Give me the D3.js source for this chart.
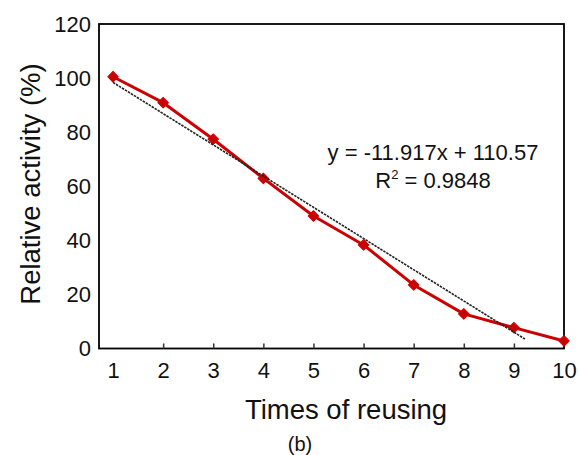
<!DOCTYPE html>
<html>
<head>
<meta charset="utf-8">
<script src="https://cdn.jsdelivr.net/npm/d3@7"></script>
<style>
  html, body { margin: 0; padding: 0; background: #fff; }
  svg { display: block; font-family: "Liberation Sans", Arial, sans-serif; }
</style>
</head>
<body>
<svg id="chart" width="579" height="455"></svg>
<script>
// ---- data ----
const reuseTimes = [1, 2, 3, 4, 5, 6, 7, 8, 9, 10];
const relativeActivity = [100.5, 90.9, 77.4, 62.9, 49.0, 38.3, 23.5, 12.8, 7.7, 2.8];
const trendX = [1, 9.22];
const trendY = [98.4, 3.5];
const yTicks = [0, 20, 40, 60, 80, 100, 120];
const xTicks = [1, 2, 3, 4, 5, 6, 7, 8, 9, 10];
const equationText = "y = -11.917x + 110.57";
const r2Value = "0.9848";

const svg = d3.select("#chart");
const plotL = 99, plotR = 564, plotT = 24, plotB = 348.5;

const x = d3.scaleLinear().domain([0.72, 10]).range([plotL, plotR]);
const y = d3.scaleLinear().domain([0, 120]).range([plotB, plotT]);

// frame
svg.append("rect")
  .attr("x", plotL).attr("y", plotT)
  .attr("width", plotR - plotL).attr("height", plotB - plotT)
  .attr("fill", "none").attr("stroke", "#000").attr("stroke-width", 1.8);

// x axis (inside ticks)
const xAxis = d3.axisBottom(x).tickValues(xTicks).tickFormat(d3.format("d"))
  .tickSizeInner(-5).tickSizeOuter(0).tickPadding(14);
const gx = svg.append("g").attr("transform", `translate(0,${plotB})`).call(xAxis);
gx.select(".domain").remove();
gx.selectAll(".tick line").attr("stroke", "#333").attr("stroke-width", 1.5)
  .filter(d => d === 1 || d === 10).remove();
gx.selectAll(".tick text").attr("font-size", 22).attr("fill", "#111")
  .attr("font-family", "Liberation Sans, Arial, sans-serif").attr("dy", "0.71em");

// y axis (labels only)
const yAxis = d3.axisLeft(y).tickValues(yTicks).tickFormat(d3.format("d"))
  .tickSize(0).tickPadding(8);
const gy = svg.append("g").attr("transform", `translate(${plotL},0)`).call(yAxis);
gy.select(".domain").remove();
gy.selectAll(".tick text").attr("font-size", 22).attr("fill", "#111")
  .attr("font-family", "Liberation Sans, Arial, sans-serif");

// data line
const pts = reuseTimes.map((d, i) => [d, relativeActivity[i]]);
svg.append("path")
  .datum(pts)
  .attr("d", d3.line().x(d => x(d[0])).y(d => y(d[1])))
  .attr("fill", "none").attr("stroke", "#cc0000").attr("stroke-width", 3)
  .attr("stroke-linejoin", "round");

// markers
svg.append("g").selectAll("path").data(pts).join("path")
  .attr("transform", d => `translate(${x(d[0])},${y(d[1])}) rotate(45)`)
  .attr("d", d3.symbol(d3.symbolSquare, 56))
  .attr("fill", "#cc0000").attr("stroke", "#cc0000").attr("stroke-width", 1)
  .attr("stroke-linejoin", "round");

// trend line
svg.append("path")
  .datum(trendX.map((d, i) => [d, trendY[i]]))
  .attr("d", d3.line().x(d => x(d[0])).y(d => y(d[1])))
  .attr("fill", "none").attr("stroke", "#222").attr("stroke-width", 1.6)
  .attr("stroke-dasharray", "2.5,1");

// equation
const eq = svg.append("g").attr("font-size", 22).attr("fill", "#111").attr("text-anchor", "middle");
eq.append("text").attr("x", 433).attr("y", 160).text(equationText);
const r2 = eq.append("text").attr("x", 433).attr("y", 188);
r2.append("tspan").text("R");
r2.append("tspan").attr("font-size", 13).attr("dy", -9).text("2");
r2.append("tspan").attr("dy", 9).text(" = " + r2Value);

// axis titles
svg.append("text").attr("x", 346).attr("y", 419).attr("text-anchor", "middle")
  .attr("font-size", 27.5).attr("fill", "#111").text("Times of reusing");
svg.append("text").attr("transform", "translate(40,184) rotate(-90)").attr("text-anchor", "middle")
  .attr("font-size", 27.5).attr("fill", "#111").text("Relative activity (%)");
svg.append("text").attr("x", 300).attr("y", 451).attr("text-anchor", "middle")
  .attr("font-size", 20).attr("fill", "#111").text("(b)");
</script>
</body>
</html>
